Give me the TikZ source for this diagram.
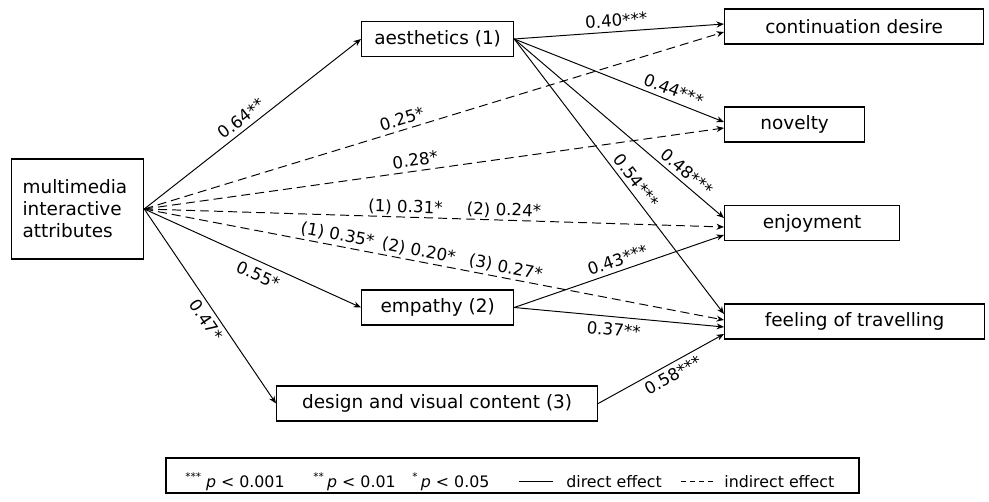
\documentclass[tikz,border=0pt]{standalone}
\usepackage{fontspec}
\setmainfont{DejaVu Sans}
\usetikzlibrary{arrows.meta,positioning}
\tikzset{%
  varnode/.style  = {shape=rectangle, draw, line width=0.7pt,%
                     minimum height=7mm, inner sep=2pt, anchor=west,%
                     font=\fontsize{10.5}{12.5}\selectfont},%
  effect/.style   = {line width=0.55pt, -{Stealth[length=1.5mm,width=1.2mm]}},%
  indirect/.style = {effect, dash pattern=on 1.8mm off 1mm},%
  coef/.style     = {font=\fontsize{9.5}{11}\selectfont, inner sep=2.5pt, sloped}%
}

\begin{document}
\begin{tikzpicture}
  [x=0.2mm, y=-0.2mm,
  legitem/.style = {font=\fontsize{9}{11}\selectfont, inner sep=0pt, anchor=base west}]
  \useasboundingbox (0,0) rectangle (989,502);
  % predictor, mediators and outcomes
  \node [varnode, minimum height=20mm, text width=22mm, align=left, inner xsep=2.2mm]
    (attr) at (11,209) {multimedia\\interactive\\attributes};
  \node [varnode, minimum width=30.4mm] (aest)   at (361,39)    {aesthetics (1)};
  \node [varnode, minimum width=30.4mm] (emp)    at (361,307.5) {empathy (2)};
  \node [varnode, minimum width=64.2mm] (design) at (276,403.5) {design and visual content (3)};
  \node [varnode, minimum width=51.8mm] (cont)   at (724,26.5)  {continuation desire};
  \node [varnode, minimum width=28mm]   (nov)    at (724,124.5) {novelty};
  \node [varnode, minimum width=35mm]   (enj)    at (724,223)   {enjoyment};
  \node [varnode, minimum width=52mm]   (travel) at (724,321.5) {feeling of travelling};
  % direct effects of the attributes
  \draw [effect] (attr.east) -- node [coef, above, pos=0.48] {0.64**} (aest.west);
  \draw [effect] (attr.east) -- node [coef, below, pos=0.55, inner sep=3.5pt] {0.55*} (emp.west);
  \draw [effect] (attr.east) -- node [coef, below, pos=0.54] {0.47*} (design.west);
  % indirect effects
  \draw [indirect] (attr.east) -- node [coef, above, pos=0.45] {0.25*} ([yshift=-1.1mm]cont.west);
  \draw [indirect] (attr.east) -- node [coef, above, pos=0.47] {0.28*} ([yshift=-0.7mm]nov.west);
  \draw [indirect] (attr.east)
    -- node [coef, above, pos=0.45, inner sep=1pt] {(1) 0.31*}
       node [coef, above, pos=0.62, inner sep=1pt] {(2) 0.24*} ([yshift=-0.8mm]enj.west);
  \draw [indirect] (attr.east)
    -- node [coef, above, pos=0.33, inner sep=1.5pt] {(1) 0.35*}
       node [coef, above, pos=0.47, inner sep=1.5pt] {(2) 0.20*}
       node [coef, above, pos=0.62, inner sep=1.5pt] {(3) 0.27*} ([yshift=0.3mm]travel.west);
  % mediators to outcomes
  \draw [effect] (aest.east) -- node [coef, above, pos=0.49] {0.40***} ([yshift=0.5mm]cont.west);
  \draw [effect] (aest.east) -- node [coef, above, pos=0.74] {0.44***} ([yshift=0.5mm]nov.west);
  \draw [effect] (aest.east) -- node [coef, above, pos=0.79] {0.48***} ([yshift=1mm]enj.west);
  \draw [effect] (aest.east) -- node [coef, above, pos=0.54] {0.54***} ([yshift=1.5mm]travel.west);
  \draw [effect] (emp.east) -- node [coef, above, pos=0.51] {0.43***} ([yshift=-2.4mm]enj.west);
  \draw [effect] (emp.east) -- node [coef, below, pos=0.48, inner sep=3.5pt] {0.37**} ([yshift=-1.1mm]travel.west);
  \draw [effect] (design.east) -- node [coef, below, pos=0.55] {0.58***} ([yshift=-2.5mm]travel.west);
  % legend
  \node [varnode, anchor=center, minimum width=138.6mm] (legend) at (512.5,475.5) {};
  \node [legitem] (p3)    at (185,487) {\textsuperscript{***}\hspace{0.25em}\textit{p} < 0.001};
  \node [legitem] (p2)    at (313,487) {\textsuperscript{**}\hspace{0.15em}\textit{p} < 0.01};
  \node [legitem] (p1)    at (412,487) {\textsuperscript{*}\hspace{0.15em}\textit{p} < 0.05};
  \node [legitem] (direct) at (566,487) {direct effect};
  \node [legitem] (indir)  at (724,487) {indirect effect};
  \draw [line width=0.55pt] ([xshift=-9.4mm]direct.west) -- ([xshift=-2.6mm]direct.west);
  \draw [line width=0.55pt, dash pattern=on 1mm off 0.8mm]
    ([xshift=-8.6mm]indir.west) -- ([xshift=-1.6mm]indir.west);
\end{tikzpicture}
\end{document}
